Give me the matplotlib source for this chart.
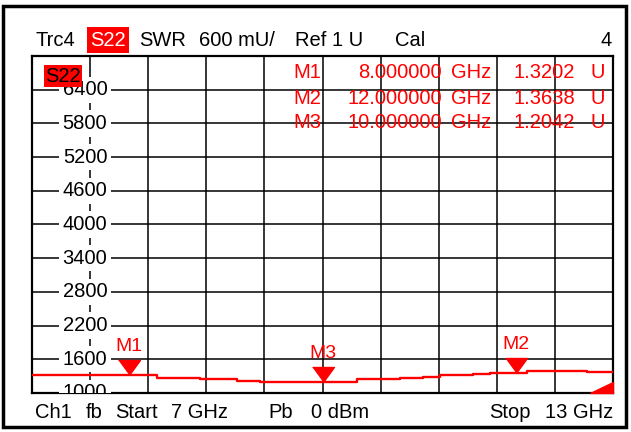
import matplotlib
matplotlib.use("Agg")
import numpy as np
import matplotlib.pyplot as plt
from matplotlib.patches import Rectangle, Polygon

W, H = 631, 432
plt.rcParams['font.family'] = ['Liberation Sans', 'DejaVu Sans']
FS = 14.5

# sweep (GHz) and trace levels (axis units, mU)
trace_freq = [7.00, 7.60, 8.00, 8.29, 8.73, 9.12, 9.35, 10.36, 10.80, 11.04, 11.21, 11.55, 11.73, 12.11, 12.73, 13.00]
trace_val = [1318, 1322, 1320, 1272, 1244, 1219, 1200, 1244, 1262, 1290, 1320, 1344, 1360, 1392, 1376, 1376]

marker_names = ['M1', 'M2', 'M3']
marker_freq = [8.0, 12.0, 10.0]
marker_swr = [1.3202, 1.3638, 1.2042]

y_ticks = [1000, 1600, 2200, 2800, 3400, 4000, 4600, 5200, 5800, 6400]
f_start, f_stop = 7.0, 13.0
y_bottom, y_top = 1000, 7000


def fx(px):
    return px / W


def fy(py):
    return 1 - py / H


fig = plt.figure(figsize=(W / 100, H / 100), dpi=100)
fig.patches.append(Rectangle((fx(3), fy(427)), fx(623), (427 - 6) / H, transform=fig.transFigure,
                             fill=False, ec='black', lw=2.5))

ax = fig.add_axes([fx(32), fy(393), fx(581), 337 / H])
ax.set_xlim(f_start, f_stop)
ax.set_ylim(y_bottom, y_top)
ax.set_xticks(np.linspace(f_start, f_stop, 11))
ax.set_yticks(np.linspace(y_bottom, y_top, 11))
ax.grid(True, color='black', lw=1.1)
ax.tick_params(length=0, labelbottom=False, labelleft=False)
for s in ax.spines.values():
    s.set_linewidth(1.6)

# y labels sit inside the grid with white boxes
for v in y_ticks:
    ax.text((85 - 32) / 581, v, str(v), transform=ax.get_yaxis_transform(), ha='center', va='center',
            fontsize=FS, zorder=3, clip_on=True,
            bbox=dict(boxstyle='square,pad=0.18', fc='white', ec='none'))

ax.step(trace_freq, trace_val, where='post', color='red', lw=1.7, zorder=5)

tri = [(-0.73, 1.0), (0.73, 1.0), (0.0, 0.0)]
for name, f, v in zip(marker_names, marker_freq, marker_swr):
    ax.plot([f], [v * 1000], marker=tri, ms=21.6, color='red', ls='none', zorder=6, clip_on=False)
    ax.annotate(name, (f, v * 1000), xytext=(0, 20.5), textcoords='offset points',
                ha='center', va='center', color='red', fontsize=14, zorder=6)

# marker table
rows_y = [72, 98, 123]
for name, f, v, ry in zip(marker_names, marker_freq, marker_swr, rows_y):
    fig.text(fx(321), fy(ry), name, ha='right', va='center', color='red', fontsize=FS)
    fig.text(fx(442), fy(ry), f'{f:.6f}', ha='right', va='center', color='red', fontsize=FS)
    fig.text(fx(451), fy(ry), 'GHz', ha='left', va='center', color='red', fontsize=FS)
    fig.text(fx(575), fy(ry), f'{v:.4f}', ha='right', va='center', color='red', fontsize=FS)
    fig.text(fx(590), fy(ry), 'U', ha='left', va='center', color='red', fontsize=FS)

# out-of-range corner indicator
ax.add_patch(Polygon([(0.960, 0.0), (1.0, 0.0), (1.0, 0.033)], closed=True, transform=ax.transAxes,
                     color='red', zorder=6, clip_on=False))

# trace badge
ax.text((45 - 32) / 581, 1 - (76 - 56) / 337, 'S22', transform=ax.transAxes, ha='left', va='center',
        fontsize=FS, color='black', zorder=7,
        bbox=dict(boxstyle='square,pad=0.06', fc='red', ec='none'))

# header line
hy = fy(40)
fig.text(fx(35), hy, 'Trc4', ha='left', va='center', fontsize=FS)
fig.text(fx(90), hy, 'S22', ha='left', va='center', fontsize=FS, color='white',
         bbox=dict(boxstyle='square,pad=0.15', fc='red', ec='none'))
fig.text(fx(139), hy, 'SWR', ha='left', va='center', fontsize=FS)
fig.text(fx(199), hy, '600 mU/', ha='left', va='center', fontsize=FS)
fig.text(fx(295), hy, 'Ref 1 U', ha='left', va='center', fontsize=FS)
fig.text(fx(395), hy, 'Cal', ha='left', va='center', fontsize=FS)
fig.text(fx(612), hy, '4', ha='right', va='center', fontsize=FS)

# footer line
by = fy(412)
fig.text(fx(35), by, 'Ch1', ha='left', va='center', fontsize=FS)
fig.text(fx(86), by, 'fb', ha='left', va='center', fontsize=FS)
fig.text(fx(115), by, 'Start', ha='left', va='center', fontsize=FS)
fig.text(fx(171), by, '7 GHz', ha='left', va='center', fontsize=FS)
fig.text(fx(268), by, 'Pb', ha='left', va='center', fontsize=FS)
fig.text(fx(311), by, '0 dBm', ha='left', va='center', fontsize=FS)
fig.text(fx(489), by, 'Stop', ha='left', va='center', fontsize=FS)
fig.text(fx(613), by, '13 GHz', ha='right', va='center', fontsize=FS)

fig.savefig('out.png', dpi=100)
